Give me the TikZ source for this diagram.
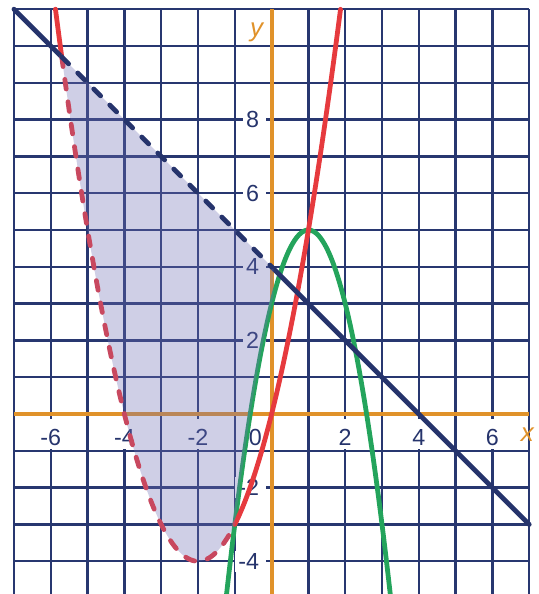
\documentclass[tikz,border=0pt]{standalone}
\usepackage{fontspec}
\setmainfont{Liberation Sans}
\definecolor{navy}{RGB}{38,52,108}
\definecolor{gridnavy}{RGB}{40,55,112}
\definecolor{plotred}{RGB}{230,58,62}
\definecolor{dashred}{RGB}{200,72,95}
\definecolor{plotgreen}{RGB}{36,164,92}
\definecolor{axisorange}{RGB}{224,146,42}
\definecolor{regionfill}{RGB}{110,110,180}
\begin{document}
\begin{tikzpicture}[x=1cm,y=1cm,
  gridline/.style={gridnavy, line width=1.8pt},
  axisline/.style={axisorange, line width=3pt},
  curve/.style={line width=3.7pt, line cap=round},
  dashcurve/.style={curve, dash pattern=on 7.5pt off 10pt},
  numfont/.style={font=\fontsize{18}{21}\selectfont, text=navy},
  xlab/.style={numfont, fill=white, anchor=base, inner xsep=2pt, inner ysep=2pt, text height=18.5pt, text depth=0.5pt},
  ylab/.style={numfont, fill=white, anchor=east, inner xsep=2.5pt, inner ysep=2pt},
  axlab/.style={font=\fontsize{20}{22}\selectfont\itshape, text=axisorange},
  region/.style={fill=regionfill, fill opacity=0.33}
]
\useasboundingbox (-7.38,-4.89) rectangle (7.24,11.25);
\clip (-7.38,-4.89) rectangle (7.24,11.25);
% grid
\draw[gridline] (-7,-5) grid (7,11);
% tick labels
\foreach \v in {-6,-4,-2,2,4,6}
  \node[xlab] (xl\v) at (\v,-0.85) {\v};
\node[numfont, anchor=base] (xl0) at (-0.44,-0.85) {0};
\foreach \v in {8,6,4,2,-2,-4}
  \node[ylab] (yl\v) at (-0.14,\v) {\v\kern3pt};
% axes
\draw[axisline] (-7,0) -- (7,0);
\draw[axisline] (0,-5) -- (0,11);
% solid curves
\draw[curve, plotgreen] plot[domain=-1.3:3.3, samples=120] ({\x},{-2*(\x)*(\x)+4*(\x)+3});
\draw[curve, plotred] plot[domain=-5.873:-5.7016, samples=6] ({\x},{(\x)*(\x)+4*(\x)});
\draw[curve, plotred] plot[domain=-1:1.873, samples=80] ({\x},{(\x)*(\x)+4*(\x)});
\draw[curve, navy] (-7,11) -- (-5.7016,9.7016);
\draw[curve, navy] (0,4) -- (7,-3);
% shaded region
\fill[region] (-5.7016,9.7016) -- (0.05,3.95)
  -- plot[domain=0.05:-1, samples=50] ({\x},{-2*(\x)*(\x)+4*(\x)+3})
  -- plot[domain=-1:-5.7016, samples=100] ({\x},{(\x)*(\x)+4*(\x)}) -- cycle;
% dashed boundaries
\draw[dashcurve, dashred] plot[domain=-5.7016:-1, samples=120] ({\x},{(\x)*(\x)+4*(\x)});
\draw[dashcurve, navy] (-5.7016,9.7016) -- (0,4);
% axis letters
\node[axlab] (xname) at (6.95,-0.57) {x};
\node[axlab] (yname) at (-0.41,10.37) {y};
\end{tikzpicture}
\end{document}
